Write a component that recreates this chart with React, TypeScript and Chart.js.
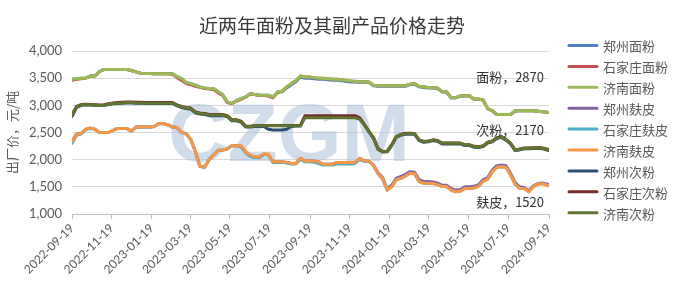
import React, { useEffect, useRef } from 'react';
import { Chart, registerables } from 'chart.js';

Chart.register(...registerables);

const chartTitle = '近两年面粉及其副产品价格走势';
const yAxisTitle = '出厂价，元/吨';
const startDate = '2022-09-19';
const endDate = '2024-09-19';
const xTickLabels = [
  '2022-09-19', '2022-11-19', '2023-01-19', '2023-03-19', '2023-05-19', '2023-07-19',
  '2023-09-19', '2023-11-19', '2024-01-19', '2024-03-19', '2024-05-19', '2024-07-19', '2024-09-19',
];
const yTicks = [1000, 1500, 2000, 2500, 3000, 3500, 4000];

// weekly samples (105 points)
const zzFlour = [
  3480, 3490, 3500, 3500, 3540, 3540, 3620, 3660, 3660, 3660,
  3660, 3660, 3660, 3640, 3615, 3590, 3585, 3585, 3580, 3580,
  3580, 3580, 3580, 3530, 3490, 3420, 3400, 3370, 3340, 3320,
  3310, 3310, 3250, 3200, 3060, 3035, 3090, 3125, 3155, 3215,
  3200, 3185, 3185, 3185, 3155, 3240, 3250, 3320, 3380, 3430,
  3520, 3500, 3500, 3490, 3480, 3480, 3470, 3460, 3460, 3450,
  3440, 3430, 3430, 3420, 3430, 3420, 3360, 3350, 3350, 3350,
  3350, 3350, 3350, 3350, 3380, 3390, 3340, 3330, 3320, 3320,
  3310, 3250, 3240, 3140, 3140, 3170, 3170, 3170, 3110, 3110,
  3100, 2940, 2900, 2830, 2830, 2830, 2830, 2890, 2900, 2900,
  2900, 2900, 2890, 2880, 2870,
];
const sjzFlour = [
  3460, 3480, 3490, 3500, 3540, 3540, 3620, 3660, 3660, 3660,
  3660, 3660, 3660, 3640, 3615, 3590, 3585, 3585, 3580, 3580,
  3580, 3580, 3570, 3510, 3460, 3400, 3380, 3350, 3330, 3310,
  3300, 3290, 3230, 3180, 3050, 3030, 3080, 3110, 3150, 3210,
  3200, 3180, 3180, 3170, 3140, 3240, 3260, 3340, 3400, 3450,
  3540, 3520, 3520, 3510, 3500, 3500, 3490, 3480, 3480, 3470,
  3460, 3450, 3445, 3430, 3440, 3430, 3370, 3360, 3360, 3360,
  3360, 3360, 3360, 3360, 3390, 3400, 3345, 3340, 3330, 3325,
  3320, 3250, 3250, 3140, 3140, 3175, 3175, 3175, 3115, 3115,
  3100, 2940, 2900, 2830, 2830, 2830, 2830, 2900, 2900, 2900,
  2900, 2900, 2890, 2880, 2870,
];
const jnFlour = [
  3480, 3490, 3500, 3500, 3540, 3540, 3620, 3660, 3660, 3660,
  3660, 3660, 3660, 3640, 3615, 3590, 3585, 3585, 3580, 3580,
  3580, 3580, 3580, 3530, 3490, 3420, 3400, 3370, 3340, 3320,
  3310, 3310, 3250, 3200, 3060, 3035, 3090, 3125, 3155, 3215,
  3200, 3185, 3185, 3185, 3155, 3250, 3260, 3340, 3400, 3450,
  3540, 3520, 3520, 3510, 3500, 3500, 3490, 3480, 3480, 3470,
  3460, 3450, 3445, 3430, 3440, 3430, 3370, 3360, 3360, 3360,
  3360, 3360, 3360, 3360, 3390, 3400, 3345, 3340, 3330, 3325,
  3320, 3250, 3250, 3140, 3140, 3175, 3175, 3175, 3115, 3115,
  3100, 2940, 2900, 2830, 2830, 2830, 2830, 2900, 2900, 2900,
  2900, 2900, 2890, 2880, 2870,
];
const zzBran = [
  2340, 2470, 2480, 2560, 2580, 2560, 2500, 2500, 2500, 2540,
  2575, 2575, 2575, 2525, 2600, 2600, 2600, 2600, 2610, 2660,
  2660, 2640, 2600, 2590, 2500, 2480, 2370, 2150, 1880, 1860,
  2000, 2085, 2175, 2175, 2200, 2255, 2255, 2240, 2130, 2070,
  2040, 2040, 2100, 2090, 1960, 1960, 1960, 1950, 1930, 1930,
  2025, 1975, 1975, 1975, 1960, 1915, 1915, 1915, 1950, 1950,
  1950, 1950, 1950, 2025, 1975, 1975, 1900, 1760, 1670, 1460,
  1530, 1660, 1690, 1730, 1780, 1770, 1630, 1600, 1600, 1590,
  1570, 1530, 1530, 1470, 1440, 1450, 1500, 1500, 1510, 1540,
  1630, 1670, 1810, 1890, 1900, 1890, 1750, 1580, 1500, 1490,
  1430, 1520, 1560, 1570, 1540,
];
const sjzBran = [
  2300, 2450, 2470, 2550, 2580, 2560, 2500, 2500, 2500, 2540,
  2575, 2575, 2575, 2525, 2600, 2600, 2600, 2600, 2610, 2665,
  2665, 2640, 2600, 2590, 2500, 2480, 2370, 2150, 1880, 1860,
  2000, 2085, 2175, 2175, 2200, 2255, 2255, 2255, 2140, 2060,
  2040, 2040, 2100, 2090, 1950, 1950, 1950, 1940, 1920, 1920,
  2010, 1960, 1960, 1950, 1930, 1900, 1900, 1900, 1920, 1920,
  1920, 1920, 1930, 2010, 1965, 1965, 1890, 1740, 1640, 1440,
  1500, 1630, 1655, 1700, 1750, 1740, 1595, 1565, 1565, 1560,
  1540, 1505, 1505, 1440, 1410, 1420, 1470, 1470, 1480, 1510,
  1600, 1640, 1780, 1860, 1870, 1860, 1720, 1550, 1470, 1470,
  1410, 1505, 1550, 1560, 1520,
];
const jnBran = [
  2330, 2470, 2480, 2560, 2585, 2560, 2500, 2500, 2500, 2540,
  2575, 2575, 2575, 2525, 2600, 2600, 2600, 2600, 2610, 2665,
  2665, 2640, 2600, 2590, 2500, 2480, 2370, 2150, 1880, 1860,
  2000, 2085, 2175, 2175, 2200, 2255, 2255, 2255, 2150, 2085,
  2055, 2055, 2110, 2100, 1960, 1960, 1960, 1950, 1930, 1930,
  2025, 1975, 1975, 1975, 1960, 1915, 1915, 1915, 1950, 1950,
  1950, 1950, 1950, 2025, 1975, 1975, 1900, 1750, 1650, 1440,
  1500, 1630, 1655, 1700, 1750, 1740, 1595, 1565, 1565, 1560,
  1540, 1505, 1505, 1440, 1410, 1420, 1470, 1470, 1480, 1510,
  1600, 1640, 1780, 1860, 1870, 1860, 1720, 1550, 1470, 1470,
  1410, 1505, 1550, 1560, 1520,
];
const zzMid = [
  2800, 2960, 3000, 3010, 3005, 3000, 2995, 3000, 3015, 3030,
  3035, 3040, 3045, 3045, 3040, 3040, 3035, 3035, 3035, 3035,
  3035, 3035, 3035, 2990, 2960, 2940, 2930, 2860, 2840, 2830,
  2810, 2810, 2810, 2810, 2790, 2715, 2715, 2690, 2600, 2600,
  2610, 2610, 2610, 2560, 2545, 2545, 2545, 2560, 2610, 2620,
  2620, 2790, 2790, 2790, 2790, 2790, 2790, 2790, 2790, 2790,
  2790, 2790, 2790, 2750, 2640, 2510, 2390, 2190, 2140, 2145,
  2260, 2410, 2450, 2470, 2470, 2470, 2350, 2320, 2330, 2350,
  2340, 2290, 2290, 2290, 2290, 2290, 2260, 2260, 2230, 2225,
  2240, 2305, 2330, 2390, 2410, 2360, 2290, 2170, 2180, 2200,
  2200, 2205, 2210, 2200, 2170,
];
const sjzMid = [
  2830, 2980, 3015, 3020, 3015, 3010, 3005, 3010, 3030, 3045,
  3050, 3055, 3060, 3060, 3055, 3055, 3050, 3050, 3050, 3050,
  3050, 3050, 3050, 3010, 2980, 2960, 2950, 2880, 2860, 2850,
  2830, 2830, 2830, 2830, 2810, 2735, 2735, 2710, 2620, 2615,
  2630, 2630, 2630, 2630, 2630, 2630, 2630, 2630, 2630, 2630,
  2630, 2810, 2810, 2810, 2810, 2810, 2810, 2810, 2810, 2810,
  2810, 2810, 2810, 2770, 2650, 2520, 2410, 2210, 2150, 2155,
  2275, 2425, 2465, 2485, 2485, 2480, 2365, 2335, 2345, 2365,
  2355, 2305, 2305, 2305, 2305, 2305, 2275, 2275, 2245, 2240,
  2255, 2320, 2345, 2405, 2425, 2375, 2305, 2180, 2195, 2215,
  2215, 2220, 2225, 2215, 2185,
];
const jnMid = [
  2820, 2970, 3010, 3015, 3010, 3000, 2995, 3000, 3020, 3035,
  3040, 3045, 3050, 3050, 3045, 3045, 3040, 3040, 3040, 3040,
  3040, 3040, 3040, 3000, 2970, 2950, 2940, 2870, 2850, 2840,
  2820, 2820, 2820, 2820, 2800, 2725, 2725, 2700, 2610, 2605,
  2625, 2625, 2625, 2625, 2625, 2625, 2625, 2625, 2625, 2625,
  2625, 2770, 2770, 2770, 2770, 2770, 2770, 2770, 2770, 2770,
  2770, 2770, 2770, 2740, 2640, 2515, 2400, 2200, 2145, 2150,
  2270, 2420, 2460, 2480, 2480, 2480, 2360, 2330, 2340, 2360,
  2350, 2300, 2300, 2300, 2300, 2300, 2270, 2270, 2240, 2235,
  2250, 2315, 2340, 2400, 2420, 2370, 2300, 2175, 2190, 2210,
  2210, 2215, 2220, 2210, 2170,
];

const seriesNames = ['郑州面粉', '石家庄面粉', '济南面粉', '郑州麸皮', '石家庄麸皮', '济南麸皮', '郑州次粉', '石家庄次粉', '济南次粉'];
const seriesValues = [zzFlour, sjzFlour, jnFlour, zzBran, sjzBran, jnBran, zzMid, sjzMid, jnMid];
const seriesColors = ['#4F81BD', '#C0504D', '#9BBB59', '#8064A2', '#4BACC6', '#F79646', '#2C4D75', '#772C2A', '#5F7530'];

const endLabelNames = ['面粉', '次粉', '麸皮'];
const endLabelSeries = [jnFlour, jnMid, jnBran];
const endLabelOffsets = [-35, -20, 16];

const DAY = 86400000;
const dayOf = (s: string) => Math.round((Date.parse(s) - Date.parse(startDate)) / DAY);
const spanDays = dayOf(endDate);
const tickDays = xTickLabels.map(dayOf);
const sampleDays = jnFlour.map((_, i) => (i === jnFlour.length - 1 ? spanDays : i * 7));

const CJK = '"Noto Sans CJK SC", "Noto Sans", sans-serif';
const NUM = 'Lato, "Noto Sans", sans-serif';

const decorPlugin = {
  id: 'decor',
  beforeDatasetsDraw(chart: any) {
    const { ctx, chartArea } = chart;
    ctx.save();
    ctx.font = 'bold 82px "Liberation Sans", Arial, sans-serif';
    ctx.fillStyle = 'rgba(170, 192, 215, 0.55)';
    ctx.textAlign = 'center';
    ctx.textBaseline = 'alphabetic';
    ctx.fillText('CZGM', chartArea.left + (chartArea.right - chartArea.left) * 0.455, 161);
    ctx.restore();
  },
  afterDraw(chart: any) {
    const { ctx, chartArea, scales } = chart;
    ctx.save();
    // title
    ctx.font = `19px ${CJK}`;
    ctx.fillStyle = '#3a3a3a';
    ctx.textAlign = 'center';
    ctx.textBaseline = 'middle';
    ctx.fillText(chartTitle, 332, 26);
    // end labels
    ctx.font = `13px ${CJK}`;
    ctx.fillStyle = '#333333';
    ctx.textAlign = 'right';
    endLabelSeries.forEach((arr, i) => {
      const last = arr[arr.length - 1];
      const y = scales.y.getPixelForValue(last) + endLabelOffsets[i];
      ctx.fillText(`${endLabelNames[i]}，${last}`, chartArea.right - 5, y);
    });
    // legend
    ctx.textAlign = 'left';
    ctx.font = `13px ${CJK}`;
    seriesNames.forEach((name, i) => {
      const y = 45.5 + i * 20.9;
      ctx.strokeStyle = seriesColors[i];
      ctx.lineWidth = 3;
      ctx.lineCap = 'round';
      ctx.beginPath();
      ctx.moveTo(569, y);
      ctx.lineTo(597, y);
      ctx.stroke();
      ctx.fillStyle = '#595959';
      ctx.fillText(name, 603, y + 1);
    });
    ctx.restore();
  },
};

function App() {
  const canvasRef = useRef<HTMLCanvasElement | null>(null);
  useEffect(() => {
    if (!canvasRef.current) return;
    const datasets = seriesNames
      .map((name, i) => ({
        label: name,
        data: seriesValues[i].map((v, j) => ({ x: sampleDays[j], y: v })),
        borderColor: seriesColors[i],
        backgroundColor: seriesColors[i],
        borderWidth: 3,
        pointRadius: 0,
        tension: 0,
        borderJoinStyle: 'round' as const,
        borderCapStyle: 'round' as const,
        fill: false,
      }))
      .reverse();
    const chart = new Chart(canvasRef.current, {
      type: 'line',
      data: { datasets },
      options: {
        animation: false,
        responsive: false,
        maintainAspectRatio: false,
        layout: { padding: { top: 51, right: 135, left: 0, bottom: 0 } },
        plugins: { legend: { display: false }, tooltip: { enabled: false }, title: { display: false } },
        scales: {
          x: {
            type: 'linear',
            min: 0,
            max: spanDays,
            afterBuildTicks: (scale: any) => {
              scale.ticks = tickDays.map((v) => ({ value: v }));
            },
            afterFit: (scale: any) => {
              scale.height = 72;
            },
            ticks: {
              autoSkip: false,
              maxRotation: 45,
              minRotation: 45,
              padding: 2,
              color: '#595959',
              font: { family: NUM, size: 12 },
              callback: (_v: any, i: number) => xTickLabels[i],
            },
            grid: { display: true, drawOnChartArea: false, drawTicks: true, tickLength: 5, color: '#BFBFBF' },
            border: { display: true, color: '#BFBFBF', width: 1 },
          },
          y: {
            min: 1000,
            max: 4000,
            afterBuildTicks: (scale: any) => {
              scale.ticks = yTicks.map((v) => ({ value: v }));
            },
            afterFit: (scale: any) => {
              scale.width = 72;
            },
            ticks: {
              padding: 10,
              color: '#595959',
              font: { family: NUM, size: 13 },
              callback: (v: any) => Number(v).toLocaleString('en-US'),
            },
            grid: { color: '#D9D9D9', drawTicks: false },
            border: { display: false },
            title: {
              display: true,
              text: yAxisTitle,
              color: '#595959',
              font: { family: CJK, size: 13 },
              padding: { top: 4, bottom: 0 },
            },
          },
        },
      },
      plugins: [decorPlugin],
    } as any);
    return () => chart.destroy();
  }, []);
  return (
    <div style={{ position: 'fixed', left: 0, top: 0, width: 684, height: 286, background: '#fff' }}>
      <canvas ref={canvasRef} width={684} height={286} style={{ width: 684, height: 286, display: 'block' }} />
    </div>
  );
}

export default App;
